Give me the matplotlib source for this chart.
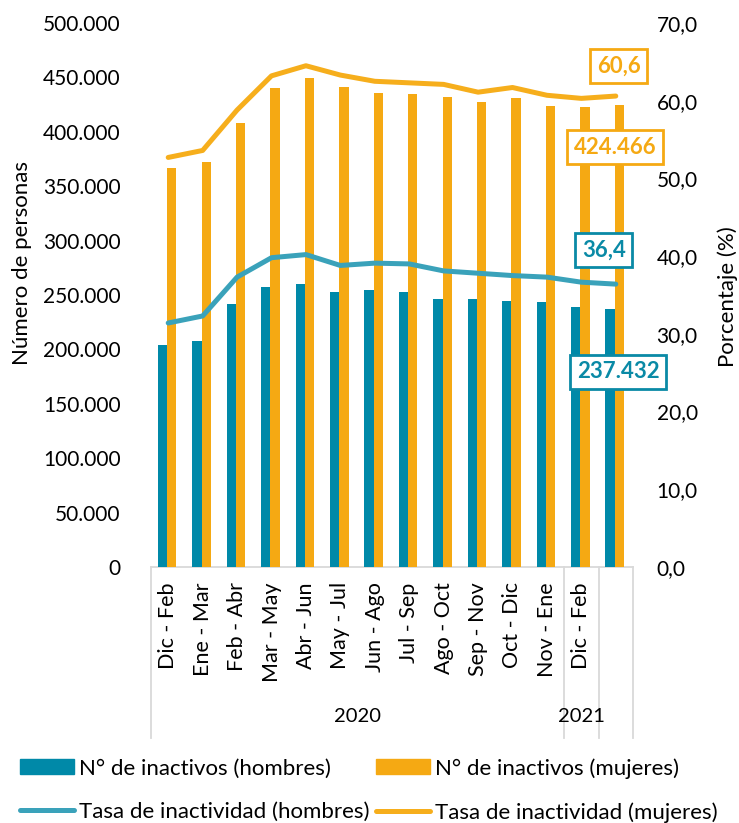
import matplotlib
matplotlib.use("Agg")
import matplotlib.pyplot as plt
import matplotlib.transforms as mtransforms
from matplotlib.patches import Patch
from matplotlib.lines import Line2D
import numpy as np

plt.rcParams['font.family'] = ['Lato', 'DejaVu Sans']

categories = ["Dic - Feb", "Ene - Mar", "Feb - Abr", "Mar - May", "Abr - Jun", "May - Jul",
              "Jun - Ago", "Jul - Sep", "Ago - Oct", "Sep - Nov", "Oct - Dic", "Nov - Ene",
              "Dic - Feb", ""]
years = ["2020", "2021"]
year_spans = [(0, 11), (12, 12)]

inactivos_hombres = [204000, 208000, 242000, 257800, 260500, 252300, 254400, 253000,
                     246500, 245900, 244700, 243700, 239200, 237432]
inactivos_mujeres = [367000, 372000, 408500, 440000, 449000, 441500, 436000, 434900,
                     432400, 427000, 431000, 423600, 422700, 424466]
tasa_hombres = [31.4, 32.3, 37.3, 39.8, 40.2, 38.8, 39.1, 39.0, 38.1, 37.8, 37.5, 37.3, 36.65, 36.4]
tasa_mujeres = [52.7, 53.6, 58.8, 63.2, 64.5, 63.3, 62.5, 62.3, 62.1, 61.1, 61.7, 60.7, 60.3, 60.6]

TEAL = "#0089A8"
TEAL_LINE = "#3AA2BA"
ORANGE = "#F5A913"
ORANGE_LINE = "#F6AE1C"
LABEL_TEAL = "#0A8AA6"
GRID = "#D9D9D9"
FS = 15

fig = plt.figure(figsize=(7.39, 8.23), dpi=100)
W, H = 739, 823
ax = fig.add_axes([151 / W, 1 - 567 / H, (633 - 151) / W, (567 - 23) / H])
ax2 = ax.twinx()

x = np.arange(len(categories))
bw = 0.27
ax.bar(x - bw / 2 - 0.03, inactivos_hombres, width=bw, color=TEAL, zorder=2)
ax.bar(x + bw / 2 - 0.03, inactivos_mujeres, width=bw, color=ORANGE, zorder=2)

ax2.plot(x, tasa_hombres, color=TEAL_LINE, lw=3.6, solid_capstyle='round', solid_joinstyle='round', zorder=3)
ax2.plot(x, tasa_mujeres, color=ORANGE_LINE, lw=3.6, solid_capstyle='round', solid_joinstyle='round', zorder=3)

ax.set_xlim(-0.5, len(categories) - 0.5)
ax.set_ylim(0, 500000)
ax2.set_ylim(0, 70)

yt = np.arange(0, 500001, 50000)
ax.set_yticks(yt)
ax.set_yticklabels([f"{v:,}".replace(",", ".") for v in yt], fontsize=FS)
yt2 = np.arange(0, 71, 10)
ax2.set_yticks(yt2)
ax2.set_yticklabels([f"{v:.1f}".replace(".", ",") for v in yt2], fontsize=FS)
ax.tick_params(axis='y', length=0, pad=22)
ax2.tick_params(axis='y', length=0, pad=17)

ax.set_xticks(x)
ax.set_xticklabels(categories, rotation=90, fontsize=15.5, va='top', ha='center')
ax.tick_params(axis='x', length=0, pad=11)

for a in (ax, ax2):
    for s in ('top', 'left', 'right', 'bottom'):
        a.spines[s].set_visible(False)
ax2.patch.set_visible(False)

# multi-level category axis box
trans = mtransforms.blended_transform_factory(ax.transData, ax.transAxes)
ybot = -(738 - 567) / (567 - 23)
ax.plot([-0.5, len(categories) - 0.5], [0, 0], transform=trans, color=GRID, lw=1.3, clip_on=False, zorder=1)
for xb in [-0.5, 11.5, 12.5, len(categories) - 0.5]:
    ax.plot([xb, xb], [0, ybot], transform=trans, color=GRID, lw=1.3, clip_on=False)
yy = -(717 - 567) / (567 - 23)
for yr, (s, e) in zip(years, year_spans):
    ax.text((s + e) / 2, yy, yr, transform=trans, ha='center', va='center', fontsize=14.5)

# axis titles
fig.text(22 / W, 1 - 263 / H, "Número de personas", rotation=90, ha='center', va='center', fontsize=16)
fig.text(728 / W, 1 - 297 / H, "Porcentaje (%)", rotation=90, ha='center', va='center', fontsize=16)

# data labels
last = len(categories) - 1
def lab(a, xv, yv, txt, col, dx, dy):
    a.annotate(txt, (xv, yv), xytext=(dx, dy), textcoords='offset pixels', ha='center', va='center',
               fontsize=16, fontweight='bold', color=col, zorder=10,
               bbox=dict(boxstyle='square,pad=0.3', fc='white', ec=col, lw=2.0))

lab(ax2, last, tasa_mujeres[last], f"{tasa_mujeres[last]:.1f}".replace(".", ","), ORANGE, 3, 30)
lab(ax, last - 0.03 + bw / 2, inactivos_mujeres[last], f"{inactivos_mujeres[last]:,}".replace(",", "."), ORANGE, -4, -42)
lab(ax2, last, tasa_hombres[last], f"{tasa_hombres[last]:.1f}".replace(".", ","), LABEL_TEAL, -12, 34)
lab(ax, last - 0.03 - bw / 2, inactivos_hombres[last], f"{inactivos_hombres[last]:,}".replace(",", "."), LABEL_TEAL, 8, -63)

handles = [Patch(color=TEAL), Patch(color=ORANGE),
           Line2D([0], [0], color=TEAL_LINE, lw=3.6, solid_capstyle='round'),
           Line2D([0], [0], color=ORANGE_LINE, lw=3.6, solid_capstyle='round')]
labels = ["N° de inactivos (hombres)", "N° de inactivos (mujeres)",
          "Tasa de inactividad (hombres)", "Tasa de inactividad (mujeres)"]
order = [0, 2, 1, 3]
fig.legend([handles[i] for i in order], [labels[i] for i in order], ncol=2, loc='upper left',
           bbox_to_anchor=(20 / W, 1 - 758 / H), frameon=False, fontsize=16, borderpad=0,
           borderaxespad=0, handlelength=2.43, handleheight=0.68, handletextpad=0.22,
           columnspacing=0.3, labelspacing=1.05)

fig.savefig("out.png", dpi=100)
